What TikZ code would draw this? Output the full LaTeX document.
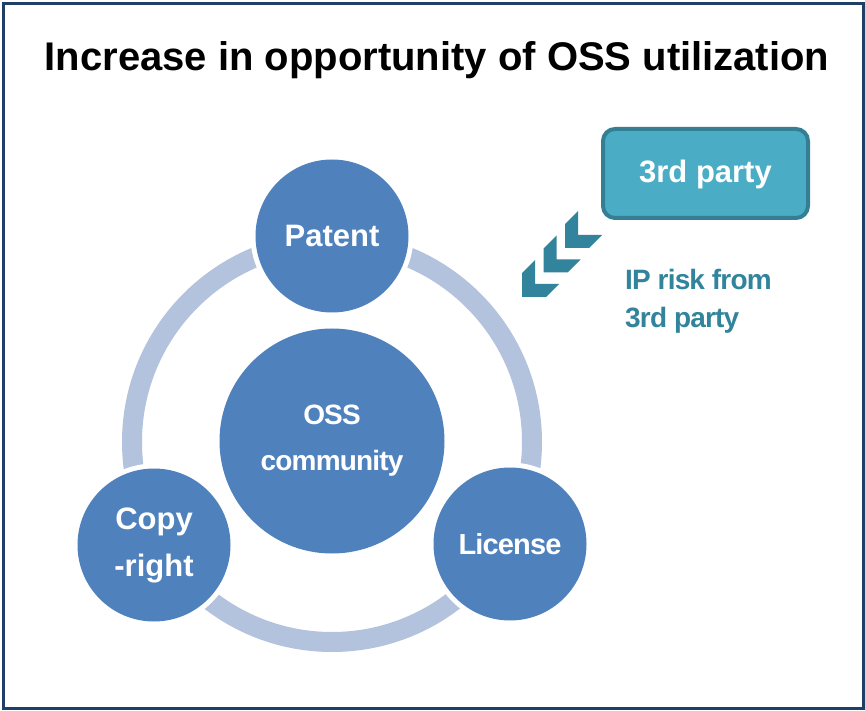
\documentclass[tikz,border=0pt]{standalone}
\usepackage{fontspec}
\setmainfont{Liberation Sans}
\newfontfamily\tightfont[LetterSpace=-3]{Liberation Sans}
\definecolor{circblue}{HTML}{4F81BD}
\definecolor{ringblue}{HTML}{B3C2DD}
\definecolor{teal}{HTML}{31849B}
\definecolor{boxfill}{HTML}{4BACC6}
\definecolor{boxline}{HTML}{357F94}
\definecolor{framec}{HTML}{1F3F66}
\begin{document}
\begin{tikzpicture}[x=1pt,y=-1pt,
  bubble/.style={circle, fill=circblue, inner sep=0pt, text=white, align=center,
    preaction={draw=white, line width=10pt}},
  small/.style={bubble, minimum size=153pt},
  big/.style={bubble, minimum size=225pt},
  chev/.style={fill=teal},
  riskstyle/.style={text=teal, anchor=base west, inner sep=0pt, font=\tightfont\bfseries\fontsize{28}{34}\selectfont}
]
\useasboundingbox (0,0) rectangle (865,711);
\fill[white] (0,0) rectangle (865,711);
\draw[framec, line width=3pt] (3.5,3.5) rectangle (863.5,708.5);

\node[font=\bfseries\fontsize{40}{48}\selectfont] (title) at (437,60) {Increase in opportunity of OSS utilization};

% ring
\coordinate (rc) at (332,442);
\draw[ringblue, line width=20pt] (rc) circle[radius=200];

\node[big, font=\tightfont\bfseries\fontsize{28}{46}\selectfont] (oss) at (332,441) {OSS\\community};
\node[small, font=\bfseries\fontsize{31}{47}\selectfont] (patent) at (332,236) {Patent};
\node[small, font=\bfseries\fontsize{31}{47}\selectfont] (copy) at (154,545) {Copy\\-right};
\node[small, font=\tightfont\bfseries\fontsize{29}{35}\selectfont] (license) at (510,544) {License};

% 3rd party box
\draw[boxline, fill=boxfill, line width=4pt, rounded corners=12pt] (603,129) rectangle (808,218);
\node[text=white, font=\bfseries\fontsize{31}{37}\selectfont] (third) at (705.5,174) {3rd party};

% chevrons
\foreach \cx/\cy in {522/297, 543.5/272.5, 565/248}{
  \fill[chev] (\cx,\cy) -- (\cx,\cy-24) -- (\cx+13,\cy-37) -- (\cx+13,\cy-13)
     -- (\cx+37,\cy-13) -- (\cx+24,\cy) -- cycle;
}

\node[riskstyle] (ipa) at (625,290) {IP risk from};
\node[riskstyle] (ipb) at (625,327) {3rd party};
\end{tikzpicture}
\end{document}
